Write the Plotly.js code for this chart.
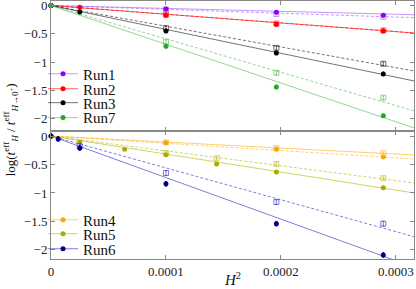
<!DOCTYPE html>
<html><head><meta charset="utf-8">
<script src="https://cdn.plot.ly/plotly-3.0.1.min.js"></script>
<style>html,body{margin:0;padding:0;background:#fff}#chart{width:416px;height:289px}</style>
</head><body><div id="chart"></div>
<script>
// ---- data ----
const runNames = ['Run1', 'Run2', 'Run3', 'Run7', 'Run4', 'Run5', 'Run6'];
const runPanel = ['top', 'top', 'top', 'top', 'bottom', 'bottom', 'bottom'];

const run1X = [0, 1e-4, 1.96e-4, 2.89e-4];
const run1Y = [0, -0.06, -0.12, -0.17];
const run1OpenX = [1e-4, 1.96e-4, 2.89e-4];
const run1OpenY = [-0.07, -0.15, -0.20];

const run2X = [0, 2.5e-5, 1e-4, 1.96e-4, 2.89e-4];
const run2Y = [0, -0.03, -0.17, -0.33, -0.45];
const run2OpenX = [1e-4, 1.96e-4, 2.89e-4];
const run2OpenY = [-0.16, -0.32, -0.44];

const run3X = [0, 2.5e-5, 1e-4, 1.96e-4, 2.89e-4];
const run3Y = [0, -0.115, -0.45, -0.84, -1.21];
const run3OpenX = [1e-4, 1.96e-4, 2.89e-4];
const run3OpenY = [-0.40, -0.75, -1.03];

const run7X = [0, 1e-4, 1.96e-4, 2.89e-4];
const run7Y = [0, -0.72, -1.44, -1.95];
const run7OpenX = [1e-4, 1.96e-4, 2.89e-4];
const run7OpenY = [-0.64, -1.19, -1.63];

const run4X = [0, 1e-4, 1.96e-4, 2.89e-4];
const run4Y = [0, -0.12, -0.23, -0.37];
const run4OpenX = [1e-4, 1.96e-4, 2.89e-4];
const run4OpenY = [-0.11, -0.21, -0.30];

const run5X = [0, 2.5e-5, 6.4e-5, 1e-4, 1.44e-4, 1.96e-4, 2.89e-4];
const run5Y = [0, -0.105, -0.23, -0.33, -0.49, -0.63, -0.91];
const run5OpenX = [1e-4, 1.44e-4, 1.96e-4, 2.89e-4];
const run5OpenY = [-0.30, -0.39, -0.49, -0.74];

const run6X = [0, 6.25e-6, 2.5e-5, 1e-4, 1.96e-4, 2.89e-4];
const run6Y = [0, -0.05, -0.21, -0.84, -1.54, -2.09];
const run6OpenX = [2.5e-5, 1e-4, 1.96e-4, 2.89e-4];
const run6OpenY = [-0.18, -0.65, -1.16, -1.54];

// fitted slopes (lines through the origin)
const solidSlopes = [-515, -1540, -4225, -6856, -1055, -3167, -7300];
const dashedSlopes = [-683, -1540, -3666, -5905, -1278, -2613, -5600];
const errSizes = [0.02, 0.03, 0.03, 0.03, 0.02, 0.02, 0.04];
const fitX = [0, 3.2e-4];

const xTickVals = [0, 0.0001, 0.0002, 0.0003];
const xTickText = ['0', '0.0001', '0.0002', '0.0003'];
const yTickVals = [-2, -1.5, -1, -0.5, 0];

// ---- styles ----
const markerColors = ['#8b00ff', '#ff0000', '#000000', '#22aa22', '#ffa500', '#aaaa00', '#00008b'];
const lineColors = ['rgba(160,80,255,0.6)', 'rgba(255,0,0,0.6)', 'rgba(0,0,0,0.55)', 'rgba(60,180,60,0.55)',
                    'rgba(255,165,0,0.55)', 'rgba(180,180,0,0.6)', 'rgba(40,40,200,0.6)'];
const legendY = [0.717, 0.659, 0.605, 0.547, 0.151, 0.097, 0.0388];

const runXs = [run1X, run2X, run3X, run7X, run4X, run5X, run6X];
const runYs = [run1Y, run2Y, run3Y, run7Y, run4Y, run5Y, run6Y];
const runOpenXs = [run1OpenX, run2OpenX, run3OpenX, run7OpenX, run4OpenX, run5OpenX, run6OpenX];
const runOpenYs = [run1OpenY, run2OpenY, run3OpenY, run7OpenY, run4OpenY, run5OpenY, run6OpenY];

const traces = [];
const layoutLegends = {};
const serif = 'Liberation Serif, Times New Roman, serif';

runNames.forEach((name, i) => {
  const xa = runPanel[i] === 'top' ? 'x2' : 'x';
  const ya = runPanel[i] === 'top' ? 'y2' : 'y';
  traces.push({x: fitX, y: fitX.map(v => v * solidSlopes[i]), mode: 'lines', xaxis: xa, yaxis: ya,
    line: {color: lineColors[i], width: 1}, showlegend: false, hoverinfo: 'skip'});
  traces.push({x: fitX, y: fitX.map(v => v * dashedSlopes[i]), mode: 'lines', xaxis: xa, yaxis: ya,
    line: {color: lineColors[i], width: 1, dash: '3px,2px'}, showlegend: false, hoverinfo: 'skip'});
  traces.push({x: runOpenXs[i], y: runOpenYs[i], mode: 'markers', xaxis: xa, yaxis: ya, cliponaxis: false,
    marker: {symbol: 'square-open', size: 5, color: lineColors[i], line: {width: 1}},
    error_y: {type: 'constant', value: errSizes[i], color: lineColors[i], thickness: 1, width: 1},
    showlegend: false});
  traces.push({x: runXs[i], y: runYs[i], mode: 'markers', xaxis: xa, yaxis: ya, cliponaxis: false,
    marker: {symbol: 'circle', size: 5, color: markerColors[i]},
    error_y: {type: 'constant', value: errSizes[i], color: markerColors[i], thickness: 1, width: 1},
    showlegend: false});
  const key = i === 0 ? 'legend' : 'legend' + (i + 1);
  traces.push({x: [null], y: [null], mode: 'lines+markers', name: name, legend: key, xaxis: xa, yaxis: ya,
    line: {color: lineColors[i], width: 1}, marker: {color: markerColors[i], size: 5}, showlegend: true});
  layoutLegends[key] = {x: -0.022, y: legendY[i], xanchor: 'left', yanchor: 'middle',
    bgcolor: 'rgba(0,0,0,0)', borderwidth: 0, font: {family: serif, size: 15, color: '#111'}};
});

const axisCommon = {showline: true, linecolor: '#888', linewidth: 1, mirror: 'ticks', ticks: 'inside',
  ticklen: 4, tickcolor: '#888', zeroline: false, showgrid: false, ticklabeloverflow: 'allow',
  tickfont: {family: serif, size: 13, color: '#222'}};

const layout = Object.assign({
  width: 416, height: 289, margin: {l: 51, r: 2, t: 1, b: 30},
  paper_bgcolor: 'white', plot_bgcolor: 'white', showlegend: true,
  xaxis: Object.assign({}, axisCommon, {domain: [0, 1], anchor: 'y', range: [0, 3.157e-4],
    tickvals: xTickVals, ticktext: xTickText}),
  yaxis: Object.assign({}, axisCommon, {domain: [0, 0.496], anchor: 'x', range: [-2.16, 0.088], tickvals: yTickVals}),
  xaxis2: Object.assign({}, axisCommon, {domain: [0, 1], anchor: 'y2', range: [0, 3.157e-4],
    tickvals: xTickVals, showticklabels: false}),
  yaxis2: Object.assign({}, axisCommon, {domain: [0.496, 1], anchor: 'x2', range: [-2.22, 0.08], tickvals: yTickVals}),
  annotations: [
    {text: '<i>H</i><sup>2</sup>', xref: 'paper', yref: 'paper', x: 0.5, y: -0.077, xanchor: 'center', yanchor: 'middle',
     showarrow: false, font: {family: serif, size: 15, color: '#111'}},
    {text: 'log(<i>t</i><sup>eff</sup><sub><i>H</i></sub> / <i>t</i><sup>eff</sup><sub><i>H</i>→0<sup>+</sup></sub>)',
     xref: 'paper', yref: 'paper', x: -0.112, y: 0.5, xanchor: 'center', yanchor: 'middle', textangle: -90,
     showarrow: false, font: {family: serif, size: 13, color: '#111'}}
  ]
}, layoutLegends);

Plotly.newPlot('chart', traces, layout, {staticPlot: true, displayModeBar: false});
</script></body></html>
